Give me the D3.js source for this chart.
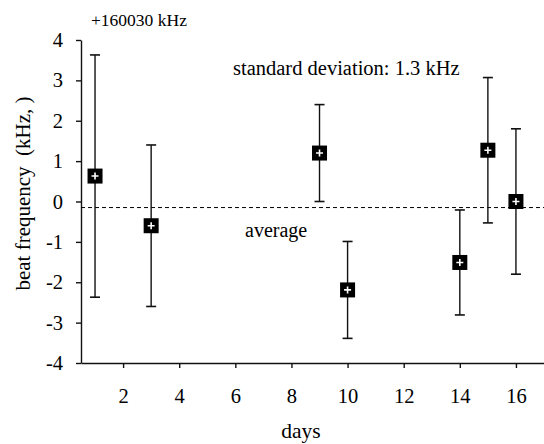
<!DOCTYPE html>
<html>
<head>
<meta charset="utf-8">
<script src="https://cdn.jsdelivr.net/npm/d3@7"></script>
<style>
html, body { margin: 0; padding: 0; background: #fff; }
#chart { width: 544px; height: 444px; }
</style>
</head>
<body>
<div id="chart"></div>
<script>
// data
var days   = [1, 3, 9, 10, 14, 15, 16];
var values = [0.63, -0.6, 1.2, -2.19, -1.51, 1.27, 0.0];
var errors = [3.0, 2.0, 1.2, 1.2, 1.3, 1.8, 1.8];
var average = -0.15;
var xTicks = [2, 4, 6, 8, 10, 12, 14, 16];
var yTicks = [-4, -3, -2, -1, 0, 1, 2, 3, 4];

var width = 544, height = 444;
var margin = {left: 81, top: 40, right: 0, bottom: 81};
var serif = "Liberation Serif";

var svg = d3.select("#chart").append("svg")
    .attr("width", width)
    .attr("height", height);

var xScale = d3.scaleLinear().domain([0.5, 17]).range([margin.left, width]);
var yScale = d3.scaleLinear().domain([-4, 4]).range([height - margin.bottom, margin.top]);

// axes (plain hyphen for negatives, like the original)
var fmt = function(d){ return String(d); };
var xAxis = svg.append("g")
    .attr("transform", "translate(0," + yScale(-4) + ")")
    .call(d3.axisBottom(xScale).tickValues(xTicks).tickFormat(fmt)
        .tickSize(5).tickSizeOuter(0).tickPadding(20));
var yAxis = svg.append("g")
    .attr("transform", "translate(" + margin.left + ",0)")
    .call(d3.axisLeft(yScale).tickValues(yTicks).tickFormat(fmt)
        .tickSize(5).tickSizeOuter(0).tickPadding(13));

[xAxis, yAxis].forEach(function(a){
    a.attr("font-family", null).attr("font-size", null);
    a.select(".domain").attr("stroke", "#111").attr("stroke-width", 1.4);
    a.selectAll(".tick line").attr("stroke", "#111").attr("stroke-width", 1.4);
    a.selectAll(".tick text")
        .attr("fill", "#000")
        .attr("font-family", serif)
        .attr("font-size", 20.5);
});

// average line
svg.append("line")
    .attr("x1", margin.left).attr("x2", width)
    .attr("y1", yScale(average)).attr("y2", yScale(average))
    .attr("stroke", "#000").attr("stroke-width", 1)
    .attr("stroke-dasharray", "4,3");

var pts = days.map(function(d, i){ return {day: d, v: values[i], e: errors[i]}; });

var g = svg.append("g").selectAll("g").data(pts).enter().append("g");

g.append("line")
    .attr("x1", function(d){ return xScale(d.day); })
    .attr("x2", function(d){ return xScale(d.day); })
    .attr("y1", function(d){ return yScale(d.v + d.e); })
    .attr("y2", function(d){ return yScale(d.v - d.e); })
    .attr("stroke", "#111").attr("stroke-width", 1.4);

[1, -1].forEach(function(s){
    g.append("line")
        .attr("x1", function(d){ return xScale(d.day) - 5; })
        .attr("x2", function(d){ return xScale(d.day) + 5; })
        .attr("y1", function(d){ return yScale(d.v + s * d.e); })
        .attr("y2", function(d){ return yScale(d.v + s * d.e); })
        .attr("stroke", "#111").attr("stroke-width", 1.6);
});

g.append("rect")
    .attr("x", function(d){ return xScale(d.day) - 7.5; })
    .attr("y", function(d){ return yScale(d.v) - 7.5; })
    .attr("width", 15).attr("height", 15)
    .attr("fill", "#000");

g.append("path")
    .attr("d", function(d){
        var x = xScale(d.day), y = yScale(d.v);
        return "M" + (x - 3.5) + "," + y + "H" + (x + 3.5) + "M" + x + "," + (y - 3.5) + "V" + (y + 3.5);
    })
    .attr("stroke", "#fff").attr("stroke-width", 1.6);

// labels
function label(x, y, size, txt){
    return svg.append("text").attr("x", x).attr("y", y)
        .attr("font-family", serif).attr("font-size", size)
        .attr("fill", "#000").text(txt);
}
label(91, 25.5, 17.5, "+160030 kHz");
label(233, 75, 20.5, "standard deviation: 1.3 kHz");
label(245, 237, 20, "average");
label(301, 438, 21.5, "days").attr("text-anchor", "middle");
label(0, 0, 21, "beat frequency  (kHz, )")
    .style("white-space", "pre")
    .attr("transform", "translate(30,193.5) rotate(-90)")
    .attr("text-anchor", "middle");
</script>
</body>
</html>
